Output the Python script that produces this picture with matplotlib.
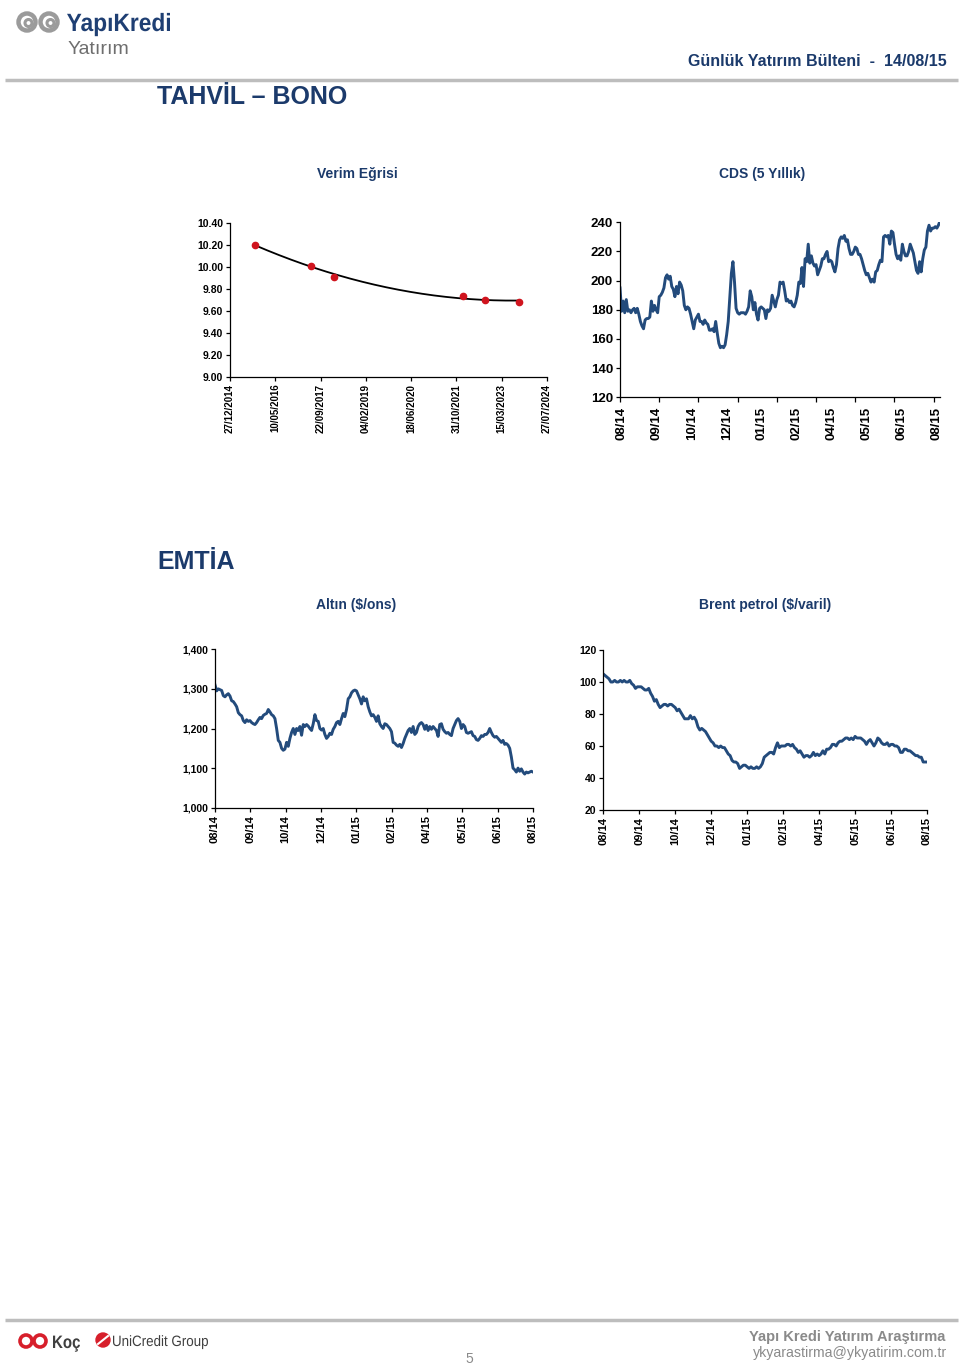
"""
Günlük Yatırım Bülteni - sayfa 5 (Tahvil-Bono / Emtia)
"""

import numpy as np
import pandas as pd
import matplotlib
matplotlib.use("Agg")
import matplotlib.pyplot as plt
from matplotlib import font_manager
from matplotlib.patches import Circle, PathPatch
from matplotlib.textpath import TextPath
from matplotlib.transforms import Affine2D

plt.rcParams['font.family'] = ['Liberation Sans', 'DejaVu Sans']

# --- Verim eğrisi (vade tarihi, bileşik faiz %) ---
verim_tarih = ['2015-09-30', '2017-06-07', '2018-02-14', '2022-01-12', '2022-09-14', '2023-09-20']
verim = [10.20, 10.01, 9.91, 9.73, 9.70, 9.68]

# --- CDS 5 yıllık (baz puan) ---
cds = [195, 179, 186, 178, 187, 179, 180, 178, 180, 181, 178, 181, 177, 172, 169, 167,
       173, 174, 174, 175, 186, 179, 183, 180, 178, 189, 190, 192, 195, 202, 204, 201,
       203, 196, 194, 189, 196, 191, 199, 197, 193, 183, 180, 182, 181, 177, 172, 167,
       173, 175, 177, 172, 172, 170, 173, 171, 170, 166, 166, 167, 165, 172, 164, 157,
       154, 155, 154, 156, 163, 172, 188, 205, 213, 199, 181, 178, 177, 178, 178, 178,
       177, 179, 182, 193, 189, 180, 185, 177, 173, 181, 182, 181, 180, 174, 180, 179,
       181, 190, 186, 182, 187, 190, 199,
       198, 199, 193, 186, 187, 185, 186, 183, 182, 185, 190, 199, 198, 209, 196, 215,
       213, 225, 212, 217, 212, 210, 211, 204, 207, 210, 215, 215, 218, 220, 213, 214,
       213, 209, 206, 211, 222, 228, 230, 229, 231, 227, 228, 222, 218, 218, 220, 223,
       222, 218, 218, 215, 211, 207, 204, 205, 202, 199, 201, 199, 206, 207, 211, 214,
       213, 230, 231, 230, 231, 225, 234, 233, 225, 218, 215, 217, 214, 225, 220, 217,
       217, 220, 225, 222, 219, 213, 207, 205, 213, 206, 215, 221, 223, 234, 238, 234,
       236, 236, 237, 236, 238, 241]

# --- Altın ($/ons) ---
altin = [1310, 1295, 1300, 1298, 1296, 1283, 1280, 1285, 1288, 1282, 1270, 1268, 1262, 1255,
         1240, 1235, 1232, 1220, 1215, 1222, 1218, 1220, 1215, 1212, 1210, 1215, 1222, 1228,
         1225, 1233, 1236, 1238, 1248, 1242, 1235, 1232, 1225, 1200, 1170, 1165, 1150, 1145,
         1148, 1165, 1155, 1175, 1190, 1200, 1185, 1200, 1195, 1205, 1183, 1210, 1205, 1210,
         1206, 1200, 1195, 1212, 1235, 1220, 1218, 1200, 1196, 1200, 1185, 1175, 1180, 1188,
         1185, 1198, 1205, 1215, 1218, 1210, 1225, 1238, 1230, 1248, 1275, 1280, 1290, 1295,
         1297, 1295, 1285, 1275, 1262, 1280, 1270, 1275, 1255, 1242, 1232, 1235, 1228, 1218,
         1232, 1212, 1205, 1200, 1212, 1210, 1205, 1200, 1192, 1165, 1163, 1158, 1155, 1160,
         1152, 1162, 1175, 1185, 1195, 1200, 1190, 1205, 1185, 1190, 1205, 1212, 1215, 1210,
         1198, 1208, 1195, 1205, 1198, 1205, 1200, 1195, 1180, 1210, 1212, 1198, 1192, 1188,
         1190, 1185, 1182, 1200, 1210, 1220, 1225, 1218, 1200, 1210, 1205, 1190, 1188, 1190,
         1192, 1182, 1180, 1172, 1170, 1175, 1182, 1180, 1185, 1185, 1190, 1200, 1190, 1182,
         1178, 1180, 1175, 1170, 1165, 1170, 1160, 1162, 1158, 1150, 1128, 1100, 1096, 1090,
         1100, 1092, 1098, 1090, 1085, 1090, 1088, 1090, 1092, 1090]

# --- Brent petrol ($/varil) ---
brent = [105, 104, 103, 102, 100, 100, 101, 100, 100, 101, 100, 101, 100, 100, 101, 99,
         98, 96, 97, 97, 97, 96, 95, 95, 96, 93, 91, 88, 89, 86, 84, 85, 86, 86, 85, 86,
         86, 85, 84, 82, 83, 81, 79, 77, 77, 77, 79, 77, 78, 76, 72, 70, 71, 70, 69, 67,
         65, 63, 62, 60, 60, 59, 60, 59, 59, 57, 55, 54, 51, 50, 50, 49, 46, 47, 48, 48,
         47, 46, 47, 46, 46, 47, 46, 47, 49, 53, 54, 55, 56, 56, 55, 59, 62, 59, 60, 60,
         60, 61, 61, 60, 61, 59, 58, 56, 57, 55, 53, 54, 54, 53, 54, 56, 54, 55, 54, 55,
         57, 55, 58, 58, 59, 61, 61, 60, 62, 63, 63, 64, 65, 65, 64, 65, 64, 66, 65, 65,
         65, 64, 63, 61, 63, 64, 62, 60, 62, 65, 64, 62, 61, 61, 62, 60, 61, 61, 60, 60,
         59, 56, 56, 58, 58, 57, 57, 56, 55, 54, 54, 53, 53, 50, 50, 50]

ay_etiket = ['08/14', '09/14', '10/14', '12/14', '01/15', '02/15', '04/15', '05/15', '06/15', '08/15']

# Renkler
LACIVERT = '#1B3A6B'
SERI = '#234B7C'
GRI = '#BDBDBD'

font_adlari = {f.name for f in font_manager.fontManager.ttflist}
NARROW = 'Liberation Sans Narrow' if 'Liberation Sans Narrow' in font_adlari else 'Liberation Sans'

W, H = 960, 1365
fig = plt.figure(figsize=(W / 100, H / 100), dpi=100)


def px_axes(l, t, r, b):
    return fig.add_axes([l / W, 1 - b / H, (r - l) / W, (b - t) / H])


def stil(ax, fs=7.5, family='Liberation Sans'):
    for s in ['top', 'right']:
        ax.spines[s].set_visible(False)
    for s in ['left', 'bottom']:
        ax.spines[s].set_linewidth(0.9)
    ax.tick_params(axis='both', which='both', direction='out', length=3, width=0.9,
                   labelsize=fs, pad=2)
    for lab in ax.get_xticklabels() + ax.get_yticklabels():
        lab.set_fontweight('bold')
        lab.set_family(family)


def dar_yazi(ax, x, y, metin, genislik, boy, renk, kalin=True):
    # yatayda sıkıştırılmış yazı (dar font yok), x,y = sol alt (piksel)
    prop = font_manager.FontProperties(family='Liberation Sans',
                                       weight='bold' if kalin else 'normal')
    tp = TextPath((0, 0), metin, size=boy, prop=prop)
    ext = tp.get_extents()
    sx = genislik / ext.width
    tr = Affine2D().translate(-ext.x0, 0).scale(sx, -1).translate(x, y) + ax.transData
    ax.add_patch(PathPatch(tp, transform=tr, color=renk, lw=0))


# Sayfa süslemeleri (piksel koordinatlı katman)
deko = fig.add_axes([0, 0, 1, 1], zorder=-1)
deko.set_xlim(0, W)
deko.set_ylim(H, 0)
deko.axis('off')

deko.plot([5, 958], [80, 80], color=GRI, lw=2.5, solid_capstyle='butt')
deko.plot([5, 958], [1320, 1320], color=GRI, lw=2.5, solid_capstyle='butt')

# Yapı Kredi logo
for cx in (27, 49):
    deko.add_patch(Circle((cx, 22), 8.5, fill=False, ec='#9B9B9B', lw=3.2))
    deko.add_patch(Circle((cx + 1.5, 23), 3.5, fill=False, ec='#9B9B9B', lw=2.2))
dar_yazi(deko, 67, 31, 'YapıKredi', 103, 25, '#1F3F73')
deko.text(68, 50, 'Yatırım', color='#6E6E6E', fontsize=14, va='center', ha='left')

deko.text(947, 62, 'Günlük Yatırım Bülteni  -  14/08/15', color=LACIVERT, fontsize=11.5,
          fontweight='bold', ha='right', va='center')
deko.text(157, 97, 'TAHVİL – BONO', color=LACIVERT, fontsize=18, fontweight='bold',
          ha='left', va='center')
deko.text(157, 562, 'EMTİA', color=LACIVERT, fontsize=18, fontweight='bold',
          ha='left', va='center')

deko.text(357, 174, 'Verim Eğrisi', color=LACIVERT, fontsize=10, fontweight='bold', ha='center', va='center')
deko.text(762, 174, 'CDS (5 Yıllık)', color=LACIVERT, fontsize=10, fontweight='bold', ha='center', va='center')
deko.text(356, 605, 'Altın ($/ons)', color=LACIVERT, fontsize=10, fontweight='bold', ha='center', va='center')
deko.text(765, 605, 'Brent petrol ($/varil)', color=LACIVERT, fontsize=10, fontweight='bold', ha='center', va='center')

# Alt bilgi
for cx in (26, 40):
    deko.add_patch(Circle((cx, 1341), 6, fill=False, ec='#D71F2B', lw=2.6))
dar_yazi(deko, 53, 1348, 'Koç', 27, 18, '#3F3F3F')
deko.add_patch(Circle((103, 1340), 7, color='#D71F2B'))
deko.plot([98, 108], [1344, 1336], color='white', lw=1.5)
dar_yazi(deko, 113, 1346, 'UniCredit Group', 95, 15, '#3F3F3F', kalin=False)
deko.text(945, 1337, 'Yapı Kredi Yatırım Araştırma', color='#8A8A8A', fontsize=10.5,
          fontweight='bold', family=NARROW, ha='right', va='center')
deko.text(947, 1353, 'ykyarastirma@ykyatirim.com.tr', color='#8A8A8A', fontsize=10.2,
          family=NARROW, ha='right', va='center')
deko.text(469, 1359, '5', color='#8A8A8A', fontsize=10, ha='center', va='center')

# --- Verim Eğrisi ---
baz = pd.Timestamp('1899-12-30')
vx = np.array([(pd.Timestamp(t) - baz).days for t in verim_tarih], dtype=float)
vy = np.array(verim)
katsayi = np.polyfit(vx, vy, 2)
xx = np.linspace(vx.min(), vx.max(), 200)

ax1 = px_axes(230, 222.7, 547, 376.7)
ax1.plot(xx, np.polyval(katsayi, xx), color='black', lw=1.3)
ax1.plot(vx, vy, 'o', color='#D0141E', ms=4.5, zorder=3)
ax1.set_ylim(9.0, 10.4)
ax1.set_yticks(np.arange(9.0, 10.41, 0.2))
ax1.set_yticklabels([f'{v:.2f}' for v in np.arange(9.0, 10.41, 0.2)])
ax1.set_xlim(42000, 45500)
xt = np.arange(42000, 45501, 500)
ax1.set_xticks(xt)
ax1.set_xticklabels([(baz + pd.Timedelta(days=int(v))).strftime('%d/%m/%Y') for v in xt],
                    rotation=90)
stil(ax1, fs=7.5)
ax1.tick_params(axis='x', labelsize=7)

# --- CDS ---
n = len(cds)
ax2 = px_axes(620, 222.3, 940, 397.3)
ax2.plot(np.arange(n), cds, color=SERI, lw=2.1)
ax2.set_ylim(120, 240)
ax2.set_yticks(np.arange(120, 241, 20))
ax2.set_xlim(0, n - 1)
ax2.set_xticks((n - 1) * np.linspace(0.006, 0.99, 10))
ax2.set_xticklabels(ay_etiket, rotation=90)
ax2.set_xticks((n - 1) * 0.1225 * np.arange(9), minor=True)
stil(ax2, fs=9.5, family=NARROW)
ax2.tick_params(axis='x', which='major', length=0, pad=7)
ax2.tick_params(axis='x', which='minor', length=3.5)

# --- Altın ---
n = len(altin)
ax3 = px_axes(215, 649.3, 533, 807.7)
ax3.plot(np.arange(n), altin, color=SERI, lw=2.1)
ax3.set_ylim(1000, 1400)
ax3.set_yticks(np.arange(1000, 1401, 100))
ax3.set_yticklabels([f'{v:,}' for v in range(1000, 1401, 100)])
ax3.set_xlim(0, n - 1)
ax3.set_xticks(np.linspace(0, n - 1, 10))
ax3.set_xticklabels(ay_etiket, rotation=90)
stil(ax3, fs=7.5)
ax3.tick_params(axis='x', labelsize=8)

# --- Brent ---
n = len(brent)
ax4 = px_axes(603.3, 650, 927, 810)
ax4.plot(np.arange(n), brent, color=SERI, lw=2.1)
ax4.set_ylim(20, 120)
ax4.set_yticks(np.arange(20, 121, 20))
ax4.set_xlim(0, n - 1)
ax4.set_xticks(np.linspace(0, n - 1, 10))
ax4.set_xticklabels(ay_etiket, rotation=90)
stil(ax4, fs=7.5)
ax4.tick_params(axis='x', labelsize=8)

fig.savefig('out.png', dpi=100)
